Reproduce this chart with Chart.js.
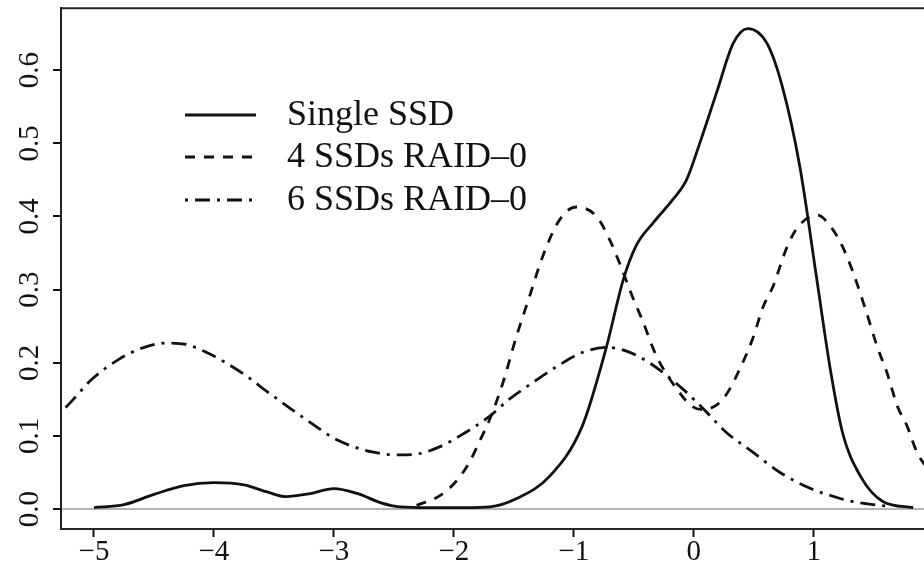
<!DOCTYPE html>
<html>
<head>
<meta charset="utf-8">
<script src="https://cdn.jsdelivr.net/npm/chart.js@4.4.0/dist/chart.umd.min.js"></script>
<style>
  body { margin: 0; background: #fff; }
  canvas { display: block; }
</style>
</head>
<body>
<canvas id="densityChart" width="924" height="563"></canvas>
<script>
// density curves
const seriesLabels = ['Single SSD', '4 SSDs RAID\u20130', '6 SSDs RAID\u20130'];

const singleX = [-5.0, -4.75, -4.5, -4.25, -4.0, -3.75, -3.55, -3.4, -3.2, -3.0, -2.8, -2.6, -2.45, -2.2, -1.9, -1.7, -1.48, -1.2,
  -0.93, -0.73, -0.59, -0.48, -0.34, -0.175, -0.06, 0.05, 0.19, 0.33, 0.45, 0.61, 0.74, 0.885, 1.03, 1.135, 1.24, 1.39, 1.58, 1.83];
const singleY = [0.002, 0.006, 0.02, 0.032, 0.036, 0.033, 0.023, 0.017, 0.021, 0.028, 0.021, 0.008, 0.003, 0.002, 0.002, 0.003, 0.014, 0.045,
  0.113, 0.22, 0.312, 0.36, 0.391, 0.423, 0.45, 0.5, 0.569, 0.637, 0.657, 0.637, 0.577, 0.468, 0.31, 0.195, 0.105, 0.045, 0.01, 0.002];

const raid4X = [-2.31, -2.12, -1.98, -1.87, -1.79, -1.7, -1.59, -1.48, -1.37, -1.26, -1.12, -0.98, -0.81, -0.7, -0.62, -0.51, -0.43, -0.31,
  -0.14, -0.01, 0.08, 0.22, 0.3, 0.38, 0.49, 0.58, 0.66, 0.78, 0.87, 1.03, 1.16, 1.24, 1.33, 1.44, 1.53, 1.61, 1.7, 1.78, 1.86, 1.95];
const raid4Y = [0.005, 0.018, 0.038, 0.064, 0.091, 0.123, 0.173, 0.235, 0.29, 0.345, 0.395, 0.413, 0.4, 0.368, 0.337, 0.29, 0.259, 0.209,
  0.164, 0.14, 0.136, 0.146, 0.164, 0.19, 0.232, 0.277, 0.304, 0.359, 0.386, 0.402, 0.382, 0.359, 0.323, 0.269, 0.222, 0.187, 0.14, 0.113, 0.078, 0.055];

const raid6X = [-5.3, -5.23, -5.02, -4.79, -4.6, -4.4, -4.23, -4.06, -3.9, -3.73, -3.56, -3.35, -3.15, -2.98, -2.68, -2.45, -2.31, -2.12,
  -1.95, -1.7, -1.54, -1.34, -1.14, -0.93, -0.73, -0.56, -0.37, -0.09, 0.11, 0.27, 0.49, 0.72, 0.99, 1.19, 1.3, 1.5, 1.62];
const raid6Y = [0.13, 0.14, 0.177, 0.205, 0.22, 0.227, 0.225, 0.214, 0.2, 0.182, 0.161, 0.136, 0.113, 0.095, 0.078, 0.074, 0.075, 0.085,
  0.1, 0.127, 0.15, 0.173, 0.195, 0.214, 0.221, 0.216, 0.2, 0.164, 0.132, 0.105, 0.078, 0.05, 0.027, 0.016, 0.011, 0.006, 0.004];

const xTicks = [-5, -4, -3, -2, -1, 0, 1];
const yTicks = [0.0, 0.1, 0.2, 0.3, 0.4, 0.5, 0.6];

function toPoints(xs, ys) {
  return xs.map((x, i) => ({ x: x, y: ys[i] }));
}

const serif = "'Liberation Serif', 'Times New Roman', serif";

// legend drawn inside the plot, like the R figure
const innerLegend = {
  id: 'innerLegend',
  afterDraw(chart) {
    const ctx = chart.ctx;
    const rows = [115, 157, 200];
    ctx.save();
    chart.data.datasets.forEach((ds, i) => {
      ctx.strokeStyle = ds.borderColor;
      ctx.lineWidth = ds.borderWidth;
      ctx.setLineDash(ds.borderDash || []);
      ctx.beginPath();
      ctx.moveTo(185, rows[i]);
      ctx.lineTo(256, rows[i]);
      ctx.stroke();
      ctx.setLineDash([]);
      ctx.fillStyle = '#111';
      ctx.font = '36px ' + serif;
      ctx.textBaseline = 'middle';
      ctx.textAlign = 'left';
      ctx.fillText(ds.label, 287, rows[i] + 1);
    });
    ctx.restore();
  }
};

// top edge of the box
const topBorder = {
  id: 'topBorder',
  afterDraw(chart) {
    const a = chart.chartArea;
    const ctx = chart.ctx;
    ctx.save();
    ctx.strokeStyle = '#222';
    ctx.lineWidth = 2;
    ctx.beginPath();
    ctx.moveTo(a.left - 1, a.top);
    ctx.lineTo(a.right, a.top);
    ctx.stroke();
    ctx.restore();
  }
};

const ctx = document.getElementById('densityChart').getContext('2d');
const densityChart = new Chart(ctx, {
  type: 'line',
  data: {
    datasets: [
      { label: seriesLabels[0], data: toPoints(singleX, singleY), borderDash: [] },
      { label: seriesLabels[1], data: toPoints(raid4X, raid4Y), borderDash: [10, 9] },
      { label: seriesLabels[2], data: toPoints(raid6X, raid6Y), borderDash: [3, 7, 15, 7] }
    ].map(ds => Object.assign(ds, {
      borderColor: '#111',
      borderWidth: 2.8,
      pointRadius: 0,
      fill: false,
      tension: 0.4,
      cubicInterpolationMode: 'monotone'
    }))
  },
  options: {
    responsive: false,
    animation: false,
    layout: { padding: { top: 8, left: 0, right: 0, bottom: 0 } },
    plugins: {
      legend: { display: false },
      tooltip: { enabled: false }
    },
    scales: {
      x: {
        type: 'linear',
        min: -5.275,
        max: 1.92,
        afterFit: s => { s.height = 34; },
        afterBuildTicks: s => { s.ticks = xTicks.map(v => ({ value: v })); },
        grid: { drawOnChartArea: false, drawTicks: true, tickLength: 8, tickColor: '#111', tickWidth: 2 },
        border: { display: true, color: '#222', width: 2 },
        ticks: {
          color: '#111',
          padding: -2,
          font: { family: serif, size: 29 },
          callback: v => String(v).replace('-', '\u2212')
        }
      },
      y: {
        min: -0.0273,
        max: 0.6846,
        afterFit: s => { s.width = 61; },
        afterBuildTicks: s => { s.ticks = yTicks.map(v => ({ value: v })); },
        grid: {
          drawOnChartArea: true,
          drawTicks: true,
          tickLength: 8,
          tickColor: '#111',
          tickWidth: 2,
          lineWidth: 2,
          color: c => (c.tick && c.tick.value === 0 ? '#b4b4b4' : 'rgba(0,0,0,0)')
        },
        border: { display: true, color: '#222', width: 2 },
        ticks: {
          color: '#111',
          minRotation: 90,
          maxRotation: 90,
          crossAlign: 'center',
          padding: 4,
          font: { family: serif, size: 29, lineHeight: 0.3 },
          callback: v => v.toFixed(1)
        }
      }
    }
  },
  plugins: [topBorder, innerLegend]
});
</script>
</body>
</html>
